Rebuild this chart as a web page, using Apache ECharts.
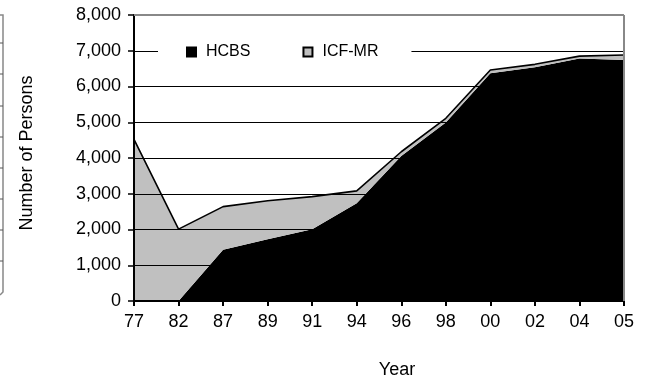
<!DOCTYPE html>
<html>
<head>
<meta charset="utf-8">
<script src="https://cdn.jsdelivr.net/npm/echarts@6/dist/echarts.min.js"></script>
<style>
html,body{margin:0;padding:0;background:#fff;}
#chart{width:650px;height:377px;}
</style>
</head>
<body>
<div id="chart"></div>
<script>
var years = ['77','82','87','89','91','94','96','98','00','02','04','05'];
var hcbs  = [0, 0, 1435, 1725, 2005, 2735, 4055, 4990, 6370, 6540, 6780, 6740];
var icfmr = [4520, 2010, 1205, 1080, 915, 345, 120, 120, 90, 80, 70, 140];
var yTicks = {min: 0, max: 8000, interval: 1000};

var FONT = 'Liberation Sans, Arial, sans-serif';
var chart = echarts.init(document.getElementById('chart'), null, {renderer: 'canvas'});

var leftBoxTicks = [43, 74, 106, 137, 168, 199, 230, 261];
var graphics = [
  {type: 'line', z: 100, shape: {x1: 134, y1: 15, x2: 624, y2: 15}, style: {stroke: '#888', lineWidth: 2}},
  {type: 'line', z: 100, shape: {x1: 624, y1: 15, x2: 624, y2: 301}, style: {stroke: '#888', lineWidth: 2}},
  {type: 'polyline', z: 100, shape: {points: [[0,15],[3,15],[3,292],[0,295]]}, style: {stroke: '#888', lineWidth: 1.5, fill: null}}
];
leftBoxTicks.forEach(function (y) {
  graphics.push({type: 'line', z: 100, shape: {x1: 0, y1: y, x2: 3, y2: y}, style: {stroke: '#555', lineWidth: 1}});
});

chart.setOption({
  animation: false,
  backgroundColor: '#fff',
  grid: {left: 134, right: 26, top: 15, bottom: 76, containLabel: false, outerBoundsMode: 'none'},
  legend: {
    data: ['HCBS', 'ICF-MR'],
    left: 158,
    top: 38,
    padding: [6, 33, 6, 28],
    backgroundColor: '#fff',
    itemGap: 52,
    itemWidth: 9,
    itemHeight: 9,
    icon: 'rect',
    textStyle: {fontFamily: FONT, fontSize: 16, color: '#000', padding: [0, 0, 0, 5]},
    z: 50
  },
  xAxis: {
    type: 'category',
    data: years,
    boundaryGap: false,
    name: 'Year',
    nameLocation: 'middle',
    nameGap: 60,
    nameTextStyle: {fontFamily: FONT, fontSize: 18, color: '#000', padding: [0, 0, 0, 36]},
    axisLine: {lineStyle: {color: '#000', width: 2}},
    axisTick: {show: true, length: 5, lineStyle: {color: '#000', width: 2}},
    axisLabel: {fontFamily: FONT, fontSize: 18, color: '#000', margin: 12},
    splitLine: {show: false},
    z: 10
  },
  yAxis: {
    type: 'value',
    min: yTicks.min,
    max: yTicks.max,
    interval: yTicks.interval,
    name: 'Number of Persons',
    nameLocation: 'middle',
    nameGap: 98,
    nameRotate: 90,
    nameTextStyle: {fontFamily: FONT, fontSize: 18, color: '#000', padding: [0, 0, 0, 10]},
    axisLine: {show: true, lineStyle: {color: '#000', width: 2}},
    axisTick: {show: true, length: 6, lineStyle: {color: '#000', width: 1.5}},
    axisLabel: {
      fontFamily: FONT, fontSize: 18, color: '#000', margin: 13,
      formatter: function (v) { return v.toString().replace(/\B(?=(\d{3})+(?!\d))/g, ','); }
    },
    splitLine: {show: true, lineStyle: {color: '#000', width: 1}},
    z: 10
  },
  series: [
    {
      name: 'HCBS',
      type: 'line',
      stack: 'total',
      data: hcbs,
      symbol: 'none',
      lineStyle: {width: 0, color: '#000'},
      itemStyle: {color: '#000', borderColor: '#000', borderWidth: 1},
      areaStyle: {color: '#000', opacity: 1}
    },
    {
      name: 'ICF-MR',
      type: 'line',
      stack: 'total',
      data: icfmr,
      symbol: 'none',
      lineStyle: {width: 1.6, color: '#000'},
      itemStyle: {color: '#c0c0c0', borderColor: '#000', borderWidth: 1},
      areaStyle: {color: '#c0c0c0', opacity: 1}
    }
  ],
  graphic: graphics
});
</script>
</body>
</html>
